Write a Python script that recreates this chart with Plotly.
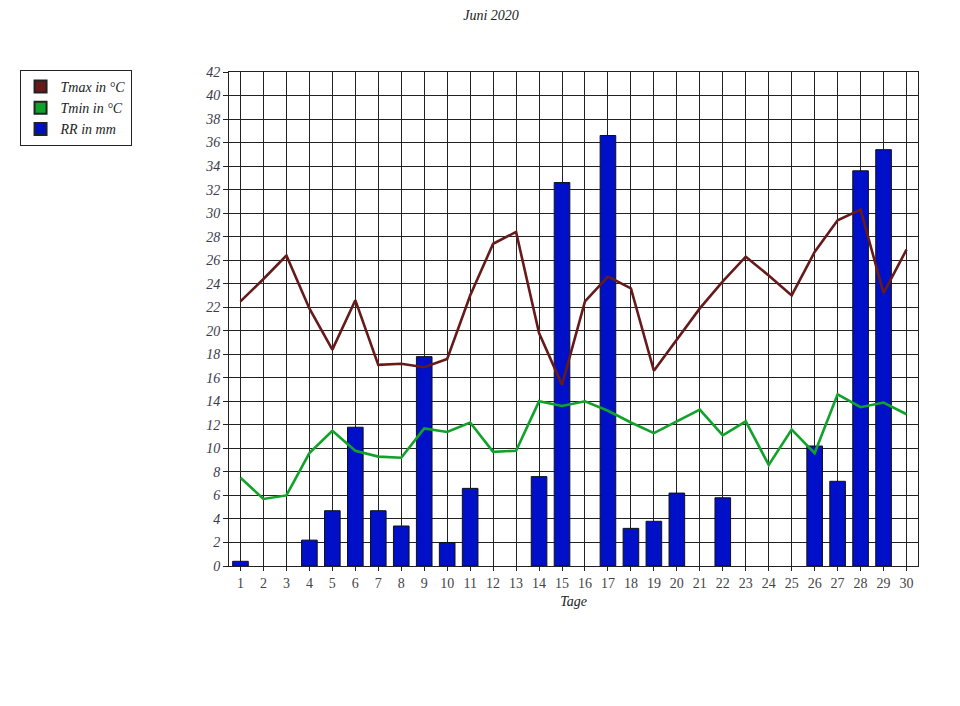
import plotly.graph_objects as go

days = list(range(1, 31))
day_labels = [str(d) for d in days]

tmax = [22.5, 24.4, 26.4, 21.9, 18.4, 22.6, 17.1, 17.2, 16.9, 17.6,
        23.0, 27.4, 28.4, 19.8, 15.4, 22.5, 24.6, 23.6, 16.6, 19.2,
        21.9, 24.2, 26.3, 24.7, 23.0, 26.7, 29.4, 30.3, 23.2, 26.9]
tmin = [7.5, 5.7, 6.0, 9.6, 11.5, 9.8, 9.3, 9.2, 11.7, 11.4,
        12.2, 9.7, 9.8, 14.0, 13.6, 14.0, 13.2, 12.2, 11.3, 12.3,
        13.3, 11.1, 12.3, 8.6, 11.6, 9.6, 14.6, 13.5, 13.9, 12.9]
rr = [0.4, 0, 0, 2.2, 4.7, 11.8, 4.7, 3.4, 17.8, 2.0,
      6.6, 0, 0, 7.6, 32.6, 0, 36.6, 3.2, 3.8, 6.2,
      0, 5.8, 0, 0, 0, 10.2, 7.2, 33.6, 35.4, 0]
y_ticks = list(range(0, 43, 2))

C_TMAX = "#661a1a"
C_TMIN = "#11a22a"
C_RR = "#0010c8"
FONT = "Liberation Serif"

# page body has an 8px margin; compensate so the plot lands where the reference has it
W, H = 952, 698

fig = go.Figure()
fig.add_trace(go.Bar(x=days, y=rr, width=0.68,
                     marker=dict(color=C_RR, line=dict(color="#111", width=[1 if v > 0 else 0 for v in rr])),
                     showlegend=False, name="RR in mm"))
fig.add_trace(go.Scatter(x=days, y=tmax, mode="lines", line=dict(color=C_TMAX, width=2.6),
                         showlegend=False, name="Tmax in °C"))
fig.add_trace(go.Scatter(x=days, y=tmin, mode="lines", line=dict(color=C_TMIN, width=2.6),
                         showlegend=False, name="Tmin in °C"))
for name, col in [("Tmax in °C", C_TMAX), ("Tmin in °C", C_TMIN), ("RR in mm", C_RR)]:
    fig.add_trace(go.Scatter(x=[None], y=[None], mode="markers", name=name,
                             marker=dict(symbol="square", size=11, color=col, line=dict(color="#222", width=1))))

fig.update_layout(
    width=W, height=H,
    margin=dict(l=217, r=42, t=64, b=140),
    paper_bgcolor="white", plot_bgcolor="white",
    title=dict(text="Juni 2020", x=483 / W, xanchor="center", y=1 - 2 / H, yanchor="top", yref="container",
               pad=dict(t=0, b=0), font=dict(family=FONT, size=14, color="#222", style="italic")),
    legend=dict(x=-0.304, xanchor="left", y=1.004, yanchor="top", bordercolor="#222", borderwidth=1,
                bgcolor="white", font=dict(family=FONT, size=14, color="#222", style="italic"),
                itemsizing="constant", itemwidth=30, tracegroupgap=0),
    bargap=0.3,
)
fig.update_xaxes(range=[0.5, 30.5], tickmode="array", tickvals=days, ticktext=day_labels,
                 showgrid=True, gridcolor="#222", gridwidth=1,
                 showline=True, linecolor="#222", linewidth=1, mirror=True,
                 ticks="outside", ticklen=4, tickcolor="#222",
                 tickfont=dict(family=FONT, size=14, color="#444"),
                 title=dict(text="Tage", standoff=6, font=dict(family=FONT, size=14, color="#222", style="italic")),
                 zeroline=False)
fig.update_yaxes(range=[0, 42], tickmode="array", tickvals=y_ticks, ticktext=[str(v) for v in y_ticks],
                 showgrid=True, gridcolor="#222", gridwidth=1,
                 showline=True, linecolor="#222", linewidth=1, mirror=True,
                 ticks="outside", ticklen=5, tickcolor="#222",
                 tickfont=dict(family=FONT, size=14, color="#3a3a4a", style="italic"),
                 zeroline=False)

fig.write_html("out.html")
